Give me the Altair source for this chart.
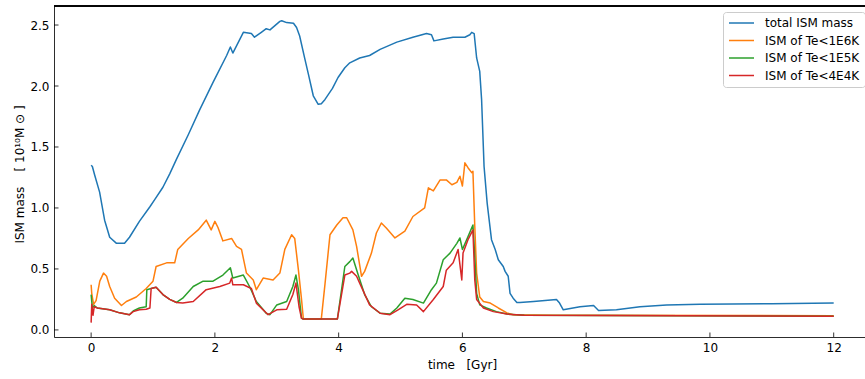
import altair as alt
import pandas as pd

series_names = ["total ISM mass", "ISM of Te<1E6K", "ISM of Te<1E5K", "ISM of Te<4E4K"]
colors = ["#1f77b4", "#ff7f0e", "#2ca02c", "#d62728"]

t_total = [0.0, 0.02, 0.057, 0.137, 0.218, 0.30, 0.41, 0.54, 0.62, 0.78, 0.95, 1.03, 1.16, 1.27,
           1.38, 1.57, 1.75, 1.97, 2.19, 2.25, 2.29, 2.46, 2.59, 2.64, 2.75, 2.83, 2.89, 3.05, 3.08,
           3.16, 3.27, 3.32, 3.37, 3.45, 3.51, 3.59, 3.67, 3.72, 3.78, 3.90, 3.99, 4.10, 4.18, 4.34,
           4.50, 4.67, 4.94, 5.20, 5.42, 5.50, 5.54, 5.69, 5.85, 6.04, 6.12, 6.15, 6.19, 6.23, 6.28,
           6.31, 6.35, 6.40, 6.47, 6.53, 6.58, 6.66, 6.69, 6.74, 6.77, 6.82, 6.88, 6.93, 7.15, 7.52,
           7.57, 7.63, 7.90, 8.12, 8.20, 8.49, 8.87, 9.30, 9.84, 11.0, 12.0]
m_total = [1.35, 1.34, 1.27, 1.13, 0.90, 0.76, 0.71, 0.71, 0.76, 0.89, 1.01, 1.07, 1.17, 1.28,
           1.40, 1.60, 1.80, 2.03, 2.25, 2.32, 2.27, 2.44, 2.43, 2.40, 2.44, 2.47, 2.46, 2.53, 2.535,
           2.52, 2.515, 2.48, 2.41, 2.23, 2.10, 1.92, 1.85, 1.855, 1.89, 1.98, 2.07, 2.15, 2.19, 2.23,
           2.25, 2.30, 2.36, 2.40, 2.43, 2.42, 2.37, 2.385, 2.40, 2.40, 2.42, 2.44, 2.43, 2.23, 2.12,
           1.89, 1.34, 1.04, 0.74, 0.66, 0.575, 0.52, 0.48, 0.44, 0.30, 0.26, 0.225, 0.225, 0.233, 0.25,
           0.22, 0.165, 0.19, 0.20, 0.16, 0.165, 0.19, 0.205, 0.21, 0.215, 0.22]

t_1e6 = [0.0, 0.01, 0.04, 0.08, 0.14, 0.20, 0.25, 0.30, 0.38, 0.49, 0.57, 0.73, 0.89, 1.0, 1.05,
         1.22, 1.35, 1.40, 1.57, 1.73, 1.86, 1.94, 2.0, 2.05, 2.13, 2.27, 2.35, 2.43, 2.51, 2.62,
         2.67, 2.78, 2.94, 3.05, 3.13, 3.24, 3.29, 3.35, 3.40, 3.43, 3.72, 3.78, 3.86, 3.97, 4.07,
         4.13, 4.23, 4.29, 4.37, 4.42, 4.53, 4.61, 4.69, 4.77, 4.91, 5.07, 5.20, 5.39, 5.45, 5.53,
         5.64, 5.74, 5.83, 5.91, 5.96, 6.0, 6.04, 6.09, 6.15, 6.17, 6.20, 6.23, 6.28, 6.34, 6.45,
         6.58, 6.72, 6.82, 7.5, 12.0]
m_1e6 = [0.37, 0.30, 0.21, 0.24, 0.40, 0.466, 0.44, 0.356, 0.26, 0.20, 0.233, 0.27, 0.34, 0.40, 0.52,
         0.55, 0.55, 0.66, 0.75, 0.82, 0.90, 0.82, 0.89, 0.84, 0.73, 0.75, 0.685, 0.66, 0.466, 0.41,
         0.33, 0.425, 0.41, 0.466, 0.66, 0.78, 0.75, 0.49, 0.25, 0.09, 0.09, 0.38, 0.78, 0.86, 0.92,
         0.92, 0.82, 0.685, 0.44, 0.48, 0.63, 0.795, 0.877, 0.836, 0.754, 0.81, 0.93, 1.0, 1.165, 1.14,
         1.23, 1.23, 1.19, 1.21, 1.26, 1.18, 1.37, 1.33, 1.29, 1.30, 0.85, 0.466, 0.27, 0.233, 0.22,
         0.18, 0.14, 0.125, 0.12, 0.117]

t_1e5 = [0.0, 0.02, 0.05, 0.10, 0.30, 0.46, 0.62, 0.68, 0.78, 0.89, 0.90, 0.97, 1.05, 1.16, 1.27,
         1.38, 1.48, 1.65, 1.81, 1.97, 2.13, 2.25, 2.29, 2.46, 2.56, 2.67, 2.83, 2.89, 3.0, 3.16,
         3.26, 3.31, 3.35, 3.40, 3.42, 3.98, 4.10, 4.18, 4.23, 4.31, 4.42, 4.53, 4.67, 4.83, 4.94,
         5.07, 5.20, 5.37, 5.50, 5.58, 5.69, 5.80, 5.91, 5.96, 6.0, 6.07, 6.17, 6.20, 6.23, 6.28,
         6.39, 6.55, 6.72, 7.0, 12.0]
m_1e5 = [0.29, 0.18, 0.20, 0.18, 0.165, 0.14, 0.125, 0.155, 0.18, 0.19, 0.33, 0.34, 0.35, 0.29, 0.25,
         0.225, 0.26, 0.356, 0.40, 0.40, 0.45, 0.51, 0.425, 0.45, 0.356, 0.233, 0.137, 0.125, 0.205, 0.233,
         0.356, 0.45, 0.33, 0.096, 0.09, 0.09, 0.52, 0.56, 0.59, 0.46, 0.29, 0.19, 0.137, 0.13, 0.18,
         0.26, 0.25, 0.22, 0.33, 0.384, 0.575, 0.63, 0.71, 0.754, 0.66, 0.74, 0.86, 0.60, 0.30, 0.205,
         0.18, 0.15, 0.13, 0.12, 0.112]

t_4e4 = [0.0, 0.01, 0.03, 0.05, 0.10, 0.30, 0.46, 0.62, 0.68, 0.78, 0.89, 0.95, 0.97, 1.05, 1.16,
         1.27, 1.38, 1.48, 1.65, 1.86, 2.08, 2.24, 2.27, 2.29, 2.46, 2.59, 2.67, 2.86, 3.0, 3.16,
         3.26, 3.31, 3.36, 3.40, 3.42, 3.98, 4.10, 4.18, 4.21, 4.29, 4.34, 4.50, 4.67, 4.83, 4.96,
         5.10, 5.26, 5.37, 5.53, 5.69, 5.74, 5.85, 5.93, 5.99, 6.01, 6.09, 6.17, 6.20, 6.23, 6.34,
         6.50, 6.72, 7.0, 12.0]
m_4e4 = [0.06, 0.21, 0.12, 0.19, 0.18, 0.165, 0.14, 0.125, 0.15, 0.165, 0.17, 0.18, 0.34, 0.35, 0.29,
         0.25, 0.225, 0.22, 0.233, 0.33, 0.356, 0.384, 0.425, 0.37, 0.37, 0.34, 0.22, 0.125, 0.165, 0.17,
         0.29, 0.384, 0.19, 0.096, 0.09, 0.09, 0.45, 0.466, 0.48, 0.44, 0.384, 0.205, 0.137, 0.125, 0.165,
         0.21, 0.205, 0.15, 0.25, 0.356, 0.49, 0.55, 0.66, 0.41, 0.63, 0.74, 0.82, 0.41, 0.25, 0.18,
         0.15, 0.13, 0.12, 0.112]

x_ticks = [0, 2, 4, 6, 8, 10, 12]
y_ticks = [0.0, 0.5, 1.0, 1.5, 2.0, 2.5]

rows = []
for name, ts, ms in zip(series_names, [t_total, t_1e6, t_1e5, t_4e4], [m_total, m_1e6, m_1e5, m_4e4]):
    for i, (t, m) in enumerate(zip(ts, ms)):
        rows.append({"series": name, "t": t, "m": m, "idx": i})
df = pd.DataFrame(rows)

W, H = 811, 331
FONT = "DejaVu Sans"
NB = "\u00a0"

x_scale = alt.Scale(domain=[-0.6, 12.506], nice=False, zero=False)
y_scale = alt.Scale(domain=[-0.058, 2.656], nice=False, zero=False)

x_axis = alt.Axis(values=x_ticks, title="time" + NB * 3 + "[Gyr]", ticks=False, grid=False, domain=True,
                  domainColor="black", domainWidth=0.8, labelPadding=5, labelFontSize=12,
                  labelColor="black", labelFont=FONT, titleFont=FONT, titleFontSize=12,
                  titleFontWeight="normal", titleColor="black", titleX=408, titleY=27,
                  titleBaseline="middle", format="d")
y_axis = alt.Axis(values=y_ticks, title="ISM mass" + NB * 4 + "[" + NB + "10¹⁰M" + NB + "⊙" + NB + "]",
                  ticks=False, grid=False,
                  domain=True, domainColor="black", domainWidth=0.8, labelPadding=5,
                  labelFontSize=12, labelColor="black", labelFont=FONT, titleFont=FONT,
                  titleFontSize=12, titleFontWeight="normal", titleColor="black", format=".1f",
                  titleX=-35, titleY=168, titleBaseline="middle", titleAngle=270)

lines = alt.Chart(df).mark_line(strokeWidth=1.5, strokeJoin="round", clip=True).encode(
    x=alt.X("t:Q", scale=x_scale, axis=x_axis),
    y=alt.Y("m:Q", scale=y_scale, axis=y_axis),
    color=alt.Color("series:N", sort=series_names,
                    scale=alt.Scale(domain=series_names, range=colors),
                    legend=alt.Legend(title=None, orient="none", legendX=669, legendY=6,
                                      fillColor="white", strokeColor="#cccccc", cornerRadius=3,
                                      padding=5, symbolType="stroke", symbolSize=625,
                                      symbolStrokeWidth=1.5, labelFontSize=12, labelFont=FONT,
                                      labelColor="black", labelOffset=10, rowPadding=5.5,
                                      clipHeight=12)),
    order=alt.Order("idx:Q"),
)

xt_df = pd.DataFrame({"t": x_ticks})
yt_df = pd.DataFrame({"m": y_ticks})

xticks = alt.Chart(xt_df).mark_rule(color="black", strokeWidth=0.8).encode(
    x=alt.X("t:Q", scale=x_scale, axis=x_axis),
    y=alt.value(H), y2=alt.value(H - 4.5),
)
yticks = alt.Chart(yt_df).mark_rule(color="black", strokeWidth=0.8).encode(
    y=alt.Y("m:Q", scale=y_scale, axis=y_axis),
    x=alt.value(0), x2=alt.value(4.5),
)
top = alt.Chart(xt_df).mark_rule(color="black", strokeWidth=0.8).encode(
    x=alt.value(0), x2=alt.value(W), y=alt.value(0),
)

chart = alt.layer(lines, xticks, yticks, top).properties(
    width=W, height=H,
    autosize=alt.AutoSizeParams(type="none"),
    padding={"left": 54, "top": 6, "right": 0, "bottom": 42},
).configure_view(stroke=None).configure(font=FONT, background="white")

chart.save("out.html", embed_options={"renderer": "svg", "actions": False})
